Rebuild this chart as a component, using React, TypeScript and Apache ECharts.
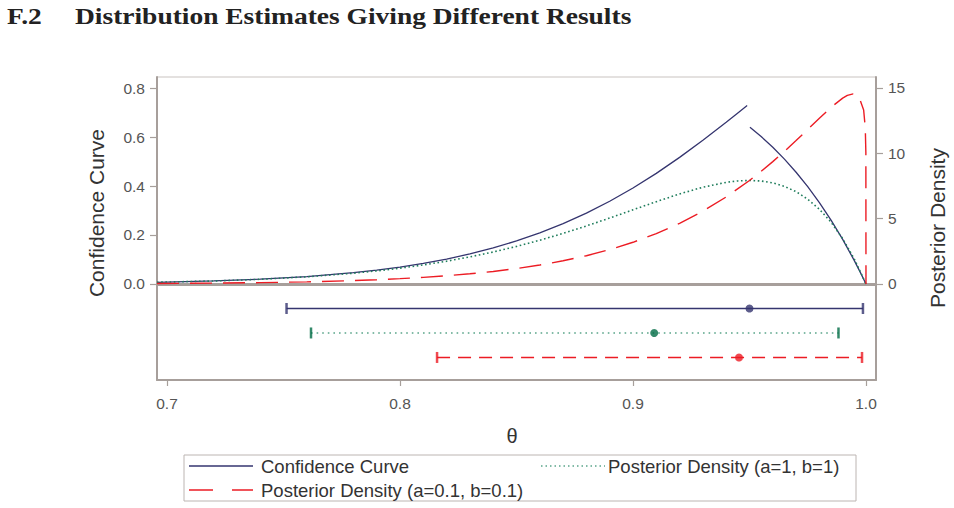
import React, { useEffect, useRef } from "react";
import * as echarts from "echarts";

// Confidence curve for 19 successes out of 20 trials (lower and upper branch)
const thetaLower = [0.6957, 0.72, 0.74, 0.76, 0.78, 0.79, 0.8, 0.81, 0.82, 0.83, 0.84, 0.85, 0.86, 0.87, 0.88, 0.89, 0.9, 0.91, 0.92, 0.93, 0.94, 0.945, 0.949];
const ccLower = [0.0069, 0.0123, 0.0195, 0.0302, 0.0461, 0.0566, 0.0692, 0.0841, 0.1018, 0.1227, 0.1471, 0.1756, 0.2084, 0.2461, 0.2891, 0.3376, 0.3918, 0.4516, 0.5169, 0.5869, 0.6604, 0.6981, 0.7282];
const thetaUpper = [0.9502, 0.955, 0.96, 0.965, 0.97, 0.975, 0.98, 0.985, 0.99, 0.995, 0.998, 1.0];
const ccUpper = [0.64, 0.6018, 0.558, 0.5096, 0.4562, 0.3973, 0.3324, 0.2609, 0.1821, 0.0954, 0.0393, 0];

// Posterior density, prior a=1, b=1
const thetaFlat = [0.6957, 0.72, 0.74, 0.76, 0.78, 0.79, 0.8, 0.81, 0.82, 0.83, 0.84, 0.85, 0.86, 0.87, 0.88, 0.89, 0.9, 0.91, 0.92, 0.93, 0.94, 0.945, 0.95, 0.955, 0.96, 0.965, 0.97, 0.975, 0.98, 0.985, 0.99, 0.995, 1.0];
const densFlat = [0.13, 0.229, 0.358, 0.548, 0.823, 1.001, 1.211, 1.456, 1.742, 2.071, 2.447, 2.873, 3.348, 3.873, 4.442, 5.047, 5.674, 6.299, 6.892, 7.406, 7.777, 7.885, 7.924, 7.88, 7.735, 7.47, 7.064, 6.49, 5.722, 4.728, 3.47, 1.909, 0];

// Posterior density, prior a=0.1, b=0.1
const thetaJeff = [0.6957, 0.72, 0.74, 0.76, 0.78, 0.79, 0.8, 0.81, 0.82, 0.83, 0.84, 0.85, 0.86, 0.87, 0.88, 0.89, 0.9, 0.91, 0.92, 0.93, 0.94, 0.95, 0.955, 0.96, 0.965, 0.97, 0.975, 0.98, 0.985, 0.99, 0.992, 0.9945, 0.996, 0.997, 0.999, 0.9997, 0.99995, 1.0];
const densJeff = [0.034, 0.062, 0.102, 0.163, 0.259, 0.325, 0.406, 0.505, 0.628, 0.777, 0.959, 1.181, 1.449, 1.773, 2.163, 2.631, 3.19, 3.856, 4.644, 5.573, 6.66, 7.92, 8.619, 9.362, 10.149, 10.973, 11.826, 12.687, 13.516, 14.225, 14.429, 14.546, 14.48, 14.327, 13.311, 11.951, 10.036, 0];

// Interval estimates: [lower, upper] and point estimate
const ccInterval = [0.7513, 0.9987];
const ccEstimate = 0.95;
const flatInterval = [0.7618, 0.9882];
const flatEstimate = 0.9091;
const jeffInterval = [0.8159, 0.9983];
const jeffEstimate = 0.9455;
const intervalRows = [-0.1, -0.2, -0.3];

// Tick labels
const xTicks = [0.7, 0.8, 0.9, 1.0];
const leftTicks = [0, 0.2, 0.4, 0.6, 0.8];
const rightTicks = [0, 5, 10, 15];

const NAVY = "#35356f";
const GREEN = "#1f7d5c";
const GREEN_LIGHT = "#5aa58a";
const GREEN_DARK = "#006b45";
const RED = "#ec1c24";
const AXIS = "#a79f9b";
const SANS = '"Liberation Sans", Arial, sans-serif';

const zip = (xs: number[], ys: number[]) => xs.map((x, i) => [x, ys[i]]);

function buildOption() {
  const lineSeries = (data: number[][], yAxisIndex: number, color: string, width: number, type: any, extra: any = {}) => ({
    type: "line",
    xAxisIndex: 0,
    yAxisIndex,
    data,
    showSymbol: false,
    smooth: false,
    clip: true,
    lineStyle: { color, width, type },
    z: 3,
    ...extra,
  });

  const intervalLine = (iv: number[], row: number, color: string, type: any, width: number) => ({
    type: "line",
    xAxisIndex: 0,
    yAxisIndex: 0,
    data: [[iv[0], row], [iv[1], row]],
    showSymbol: false,
    lineStyle: { color, width, type },
    z: 3,
  });

  const caps = (iv: number[], row: number, color: string) => ({
    type: "scatter",
    xAxisIndex: 0,
    yAxisIndex: 0,
    data: [[iv[0], row], [iv[1], row]],
    symbol: "rect",
    symbolSize: [2.5, 11],
    itemStyle: { color },
    z: 4,
  });

  const dot = (x: number, row: number, color: string) => ({
    type: "scatter",
    xAxisIndex: 0,
    yAxisIndex: 0,
    data: [[x, row]],
    symbol: "circle",
    symbolSize: 8,
    itemStyle: { color },
    z: 5,
  });

  const labelStyle = { color: "#555", fontSize: 15.5, fontFamily: SANS };

  return {
    animation: false,
    grid: { left: 157, right: 78, top: 77, bottom: 128, show: true, borderColor: "#c9c3c0", borderWidth: 1 },
    xAxis: {
      type: "value",
      min: 0.6957,
      max: 1.0043,
      axisLine: { show: true, onZero: false, lineStyle: { color: AXIS, width: 2 } },
      axisTick: { show: true, length: 6, customValues: xTicks, lineStyle: { color: AXIS, width: 1.2 } },
      axisLabel: { ...labelStyle, margin: 15, customValues: xTicks, formatter: (v: number) => v.toFixed(1) },
      splitLine: { show: false },
    },
    yAxis: [
      {
        type: "value",
        position: "left",
        min: -0.392,
        max: 0.845,
        axisLine: { show: true, onZero: false, lineStyle: { color: AXIS, width: 2 } },
        axisTick: { show: true, length: 7, customValues: leftTicks, lineStyle: { color: AXIS, width: 1.2 } },
        axisLabel: { ...labelStyle, margin: 12, customValues: leftTicks, formatter: (v: number) => v.toFixed(1) },
        splitLine: { show: false },
      },
      {
        type: "value",
        position: "right",
        min: -7.35,
        max: 15.84,
        axisLine: { show: true, onZero: false, lineStyle: { color: AXIS, width: 2 } },
        axisTick: { show: true, length: 7, customValues: rightTicks, lineStyle: { color: AXIS, width: 1.2 } },
        axisLabel: { ...labelStyle, margin: 12, customValues: rightTicks, formatter: (v: number) => String(v) },
        splitLine: { show: false },
      },
    ],
    series: [
      lineSeries(zip(thetaLower, ccLower), 0, NAVY, 1.3, "solid", {
        markLine: {
          silent: true,
          symbol: "none",
          label: { show: false },
          lineStyle: { color: AXIS, width: 3, type: "solid" },
          data: [{ yAxis: 0 }],
          z: 2,
        },
      }),
      lineSeries(zip(thetaUpper, ccUpper), 0, NAVY, 1.3, "solid"),
      lineSeries(zip(thetaFlat, densFlat), 1, GREEN, 1.6, [1.6, 2.6]),
      lineSeries(zip(thetaJeff, densJeff), 1, RED, 1.4, [22, 11]),
      intervalLine(ccInterval, intervalRows[0], NAVY, "solid", 1.3),
      intervalLine(flatInterval, intervalRows[1], GREEN_LIGHT, [1.6, 4], 1.6),
      intervalLine(jeffInterval, intervalRows[2], RED, [13, 8], 1.4),
      caps(ccInterval, intervalRows[0], NAVY),
      caps(flatInterval, intervalRows[1], GREEN_DARK),
      caps(jeffInterval, intervalRows[2], RED),
      dot(ccEstimate, intervalRows[0], NAVY),
      dot(flatEstimate, intervalRows[1], GREEN_DARK),
      dot(jeffEstimate, intervalRows[2], RED),
    ],
    graphic: [
      // heading
      {
        type: "text",
        x: 7,
        y: 16,
        scaleX: 1.145,
        style: { text: "F.2", font: 'bold 24px "Liberation Serif", "Times New Roman", serif', fill: "#222", textVerticalAlign: "middle" },
      },
      {
        type: "text",
        x: 75,
        y: 16,
        scaleX: 1.145,
        style: {
          text: "Distribution Estimates Giving Different Results",
          font: 'bold 24px "Liberation Serif", "Times New Roman", serif',
          fill: "#222",
          textVerticalAlign: "middle",
        },
      },
      // axis titles
      {
        type: "text",
        x: 96,
        y: 213,
        rotation: Math.PI / 2,
        style: { text: "Confidence Curve", font: `21px ${SANS}`, fill: "#333", textAlign: "center", textVerticalAlign: "middle" },
      },
      {
        type: "text",
        x: 937,
        y: 228,
        rotation: Math.PI / 2,
        style: { text: "Posterior Density", font: `21px ${SANS}`, fill: "#333", textAlign: "center", textVerticalAlign: "middle" },
      },
      {
        type: "text",
        x: 512,
        y: 436,
        style: { text: "θ", font: `20px ${SANS}`, fill: "#333", textAlign: "center", textVerticalAlign: "middle" },
      },
      // legend box
      {
        type: "rect",
        shape: { x: 184, y: 455, width: 672, height: 46 },
        style: { fill: "#fff", stroke: "#bcb5b2", lineWidth: 1 },
      },
      {
        type: "line",
        shape: { x1: 189, y1: 466, x2: 253, y2: 466 },
        style: { stroke: NAVY, lineWidth: 1.3 },
      },
      {
        type: "text",
        x: 261,
        y: 466,
        style: { text: "Confidence Curve", font: `18.5px ${SANS}`, fill: "#333", textVerticalAlign: "middle" },
      },
      {
        type: "line",
        shape: { x1: 541, y1: 466, x2: 605, y2: 466 },
        style: { stroke: GREEN_LIGHT, lineWidth: 1.5, lineDash: [1.5, 3] },
      },
      {
        type: "text",
        x: 608,
        y: 466,
        style: { text: "Posterior Density (a=1, b=1)", font: `18.5px ${SANS}`, fill: "#333", textVerticalAlign: "middle" },
      },
      {
        type: "line",
        shape: { x1: 189, y1: 490, x2: 253, y2: 490 },
        style: { stroke: RED, lineWidth: 1.3, lineDash: [24, 19] },
      },
      {
        type: "text",
        x: 261,
        y: 490,
        style: { text: "Posterior Density (a=0.1, b=0.1)", font: `18.5px ${SANS}`, fill: "#333", textVerticalAlign: "middle" },
      },
    ],
  };
}

export default function App() {
  const ref = useRef<HTMLDivElement>(null);
  useEffect(() => {
    document.body.style.margin = "0";
    const chart = echarts.init(ref.current!, null, { renderer: "svg" });
    chart.setOption(buildOption() as any);
    return () => chart.dispose();
  }, []);
  return <div ref={ref} style={{ width: 954, height: 508 }} />;
}
